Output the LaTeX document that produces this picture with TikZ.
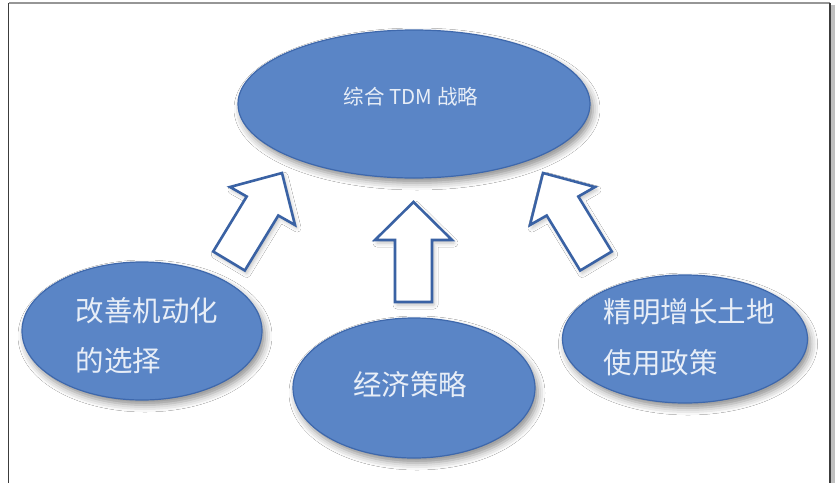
\documentclass[tikz,border=0pt]{standalone}
\usepackage{fontspec}
\newfontfamily\cjk{Noto Sans CJK SC}
\usetikzlibrary{shapes.geometric,shadows.blur}
\definecolor{ellfill}{RGB}{90,133,198}
\definecolor{elldraw}{RGB}{62,104,172}
\definecolor{arrdraw}{RGB}{58,98,164}
\definecolor{txtcol}{RGB}{232,238,247}
\definecolor{framedark}{RGB}{60,60,60}
\definecolor{framegray}{RGB}{150,150,150}
\tikzset{
  ell/.style={ellipse, draw=elldraw, fill=ellfill, line width=1.2pt, inner sep=0pt,
    blur shadow={shadow xshift=3pt, shadow yshift=-5pt, shadow blur radius=7pt, shadow opacity=45}},
  blockarrow/.style={draw=arrdraw, fill=white, line width=2.6pt, line join=miter,
    blur shadow={shadow xshift=2pt, shadow yshift=-3pt, shadow blur radius=4pt, shadow opacity=25}},
  bigtxt/.style={text=txtcol, font=\cjk\fontsize{28.5}{30}\selectfont, inner sep=0pt},
  toptxt/.style={text=txtcol, font=\cjk\fontsize{20.5}{24}\selectfont, inner sep=0pt},
}
\begin{document}
\begin{tikzpicture}[x=1pt,y=-1pt]
\useasboundingbox (0,0) rectangle (835,483);
\fill[white] (0,0) rectangle (835,483);
% frame
\coordinate (ftl) at (8.5,3);
\coordinate (ftr) at (830,3);
\coordinate (fbl) at (8.5,483);
\coordinate (fbr) at (830,483);
\fill[framegray!60] (831,5) rectangle (835,483);
\draw[framegray, line width=2pt] (ftl) -- (ftr);
\draw[framedark, line width=1.5pt] (ftl) -- (fbl);
\draw[framedark, line width=1.5pt] (ftr) -- (fbr);

% ellipses
\node[ell, minimum width=352pt, minimum height=148pt] (top) at (414,104) {};
\node[ell, minimum width=240pt, minimum height=138pt] (left) at (142,331) {};
\node[ell, minimum width=242pt, minimum height=140pt] (mid) at (414,388) {};
\node[ell, minimum width=245pt, minimum height=128pt] (right) at (685,339) {};

% block arrows
\draw[blockarrow] (282,173) -- (295,225) -- (278.3,215.5) -- (244.8,270.5)
  -- (213.2,251.5) -- (246.7,196.5) -- (230,187) -- cycle;
\draw[blockarrow] (543,173) -- (530,225) -- (546.7,215.5) -- (580.2,270.5)
  -- (611.8,251.5) -- (578.3,196.5) -- (595,187) -- cycle;
\draw[blockarrow] (413.5,202) -- (452,240) -- (432,240) -- (432,302)
  -- (395,302) -- (395,240) -- (375,240) -- cycle;

% texts
\node[toptxt, anchor=base] (ttop) at (411,104) {综合 TDM 战略};
\node[bigtxt, anchor=base west] (tl1) at (75.5,321) {改善机动化};
\node[bigtxt, anchor=base west] (tl2) at (75.5,371) {的选择};
\node[bigtxt, anchor=base] (tm) at (410,395) {经济策略};
\node[bigtxt, anchor=base west] (tr1) at (603.5,322) {精明增长土地};
\node[bigtxt, anchor=base west] (tr2) at (603.5,373) {使用政策};
\end{tikzpicture}
\end{document}
